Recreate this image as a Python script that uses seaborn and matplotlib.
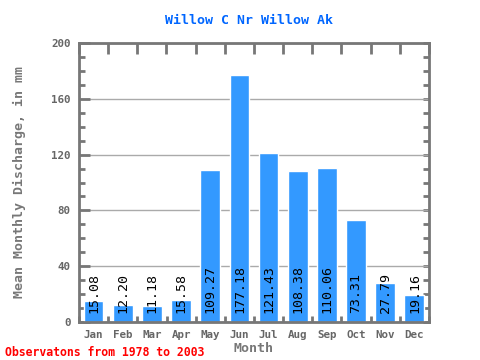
import matplotlib
matplotlib.use("Agg")
import matplotlib.pyplot as plt
import seaborn as sns
import pandas as pd
from matplotlib.ticker import MultipleLocator, FixedLocator

months = ['Jan', 'Feb', 'Mar', 'Apr', 'May', 'Jun', 'Jul', 'Aug', 'Sep', 'Oct', 'Nov', 'Dec']
discharge = [15.08, 12.20, 11.18, 15.58, 109.27, 177.18, 121.43, 108.38, 110.06, 73.31, 27.79, 19.16]

df = pd.DataFrame({'Month': months, 'Discharge': discharge})

sns.set_style('white')
plt.rcParams['font.family'] = ['DejaVu Sans Mono', 'DejaVu Sans']

frame_col = '#777777'
fig = plt.figure(figsize=(4.8, 3.6), dpi=100)
ax = fig.add_axes([79 / 480, 38 / 360, 350 / 480, 279 / 360])

sns.barplot(data=df, x='Month', y='Discharge', color='#3399ff', saturation=1,
            width=0.68, ax=ax, zorder=2)

for i, v in enumerate(discharge):
    ax.text(i, 6.5, f"{v:.2f}", rotation=90, ha='center', va='bottom',
            fontsize=9.5, color='black', zorder=3)

ax.set_ylim(0, 200)
ax.set_xlim(-0.5, 11.5)
ax.yaxis.set_major_locator(MultipleLocator(40))
ax.yaxis.set_minor_locator(MultipleLocator(10))
ax.xaxis.set_minor_locator(FixedLocator([i + 0.5 for i in range(-1, 12)]))
ax.grid(axis='y', which='major', color='#aaaaaa', linewidth=1, zorder=0)
ax.set_axisbelow(True)

for s in ax.spines.values():
    s.set_color(frame_col)
    s.set_linewidth(2)

ax.tick_params(axis='x', which='major', length=0, pad=6, labelsize=7.8,
               labelcolor='#666666')
ax.tick_params(axis='x', which='minor', direction='in', length=4, width=2,
               color=frame_col, top=False, bottom=True)
ax.tick_params(axis='y', which='major', direction='in', length=8, width=2,
               color=frame_col, right=False, left=True, labelsize=7.8,
               labelcolor='#666666', pad=6)
ax.tick_params(axis='y', which='minor', direction='in', length=4, width=2,
               color=frame_col, right=False, left=True)
for lab in ax.get_xticklabels() + ax.get_yticklabels():
    lab.set_fontweight('bold')

# top edge ticks at month boundaries
axt = ax.secondary_xaxis('top')
axt.set_xticks([i + 0.5 for i in range(-1, 12)])
axt.tick_params(direction='in', length=8, width=2, color=frame_col, labeltop=False)
axt.spines['top'].set_visible(False)

# right edge ticks every 10
axr = ax.secondary_yaxis('right')
axr.yaxis.set_major_locator(MultipleLocator(10))
axr.tick_params(direction='in', length=4, width=2, color=frame_col, labelright=False)
axr.spines['right'].set_visible(False)

ax.set_xlabel('Month', fontsize=9.5, fontweight='bold', color='#777777', labelpad=1)
ax.set_ylabel('Mean Monthly Discharge, in mm', fontsize=9.5, fontweight='bold',
              color='#777777', labelpad=18)
ax.set_title('Willow C Nr Willow Ak', fontsize=9.5, fontweight='bold',
             color='#0066ff', pad=14, x=0.487)
fig.text(5 / 480, 1 - 352 / 360, 'Observatons from 1978 to 2003', fontsize=8.3,
         fontweight='bold', color='red', va='center', ha='left')

fig.savefig('out.png', dpi=100)
